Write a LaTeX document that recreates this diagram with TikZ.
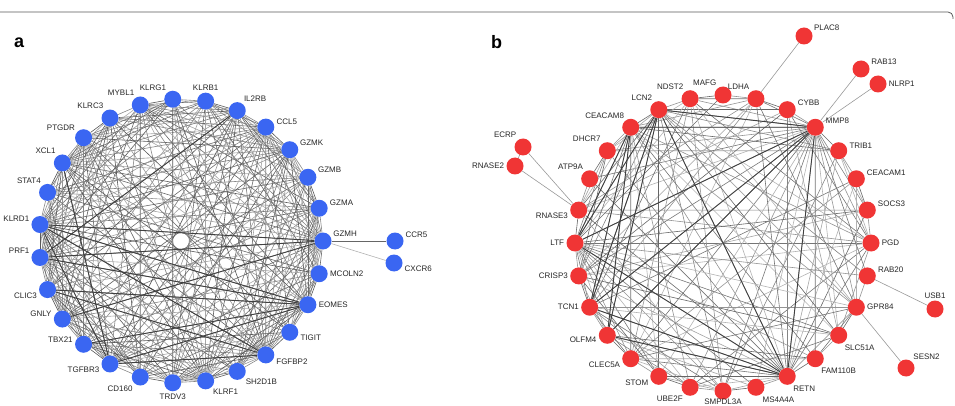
\documentclass[tikz,border=0pt]{standalone}
\usepackage{fontspec}
\setmainfont{Liberation Sans}
\usetikzlibrary{backgrounds}
\definecolor{GeneBlue}{HTML}{3A66F2}
\definecolor{GeneRed}{HTML}{F03535}

% degree weights for the two circles
\def\wa{{5,4,4,4,2,5,3,2,4,3,2,4,3,5,5,4,4,4,5,3,3,3,3,5,2,5,2}}
\def\wb{{2,2,4,2,5,2,2,1,2,5,4,2,2,2,5,3,4,4,3,2,2,2,2,5,2,2,4,2}}

\tikzset{
  gene/.style={circle,inner sep=0pt,minimum size=17pt},
  anode/.style={gene,fill=GeneBlue},
  bnode/.style={gene,fill=GeneRed},
  lbl/.style={font=\fontsize{8}{9}\selectfont,text=black!85,inner sep=1pt},
  edge/.style={line width=0.6pt},
  strong/.style={line width=0.9pt,black!75},
  panel/.style={font=\fontsize{18}{18}\selectfont\bfseries,anchor=base west,inner sep=0pt},
  SMPDL3A/.style={yshift=3pt},
}

\begin{document}
\begin{tikzpicture}[x=1pt,y=-1pt,label distance=1pt]
  \useasboundingbox (0,0) rectangle (955,406);
  \draw[black!65,line width=0.8pt,rounded corners=5pt] (0,12) -- (953,12) -- (953,19);
  \node[panel] (pa) at (14,48) {a};
  \node[panel] (pb) at (491,49) {b};

  % panel a
  \foreach \n/\la [count=\i from 0] in {GZMH/20,GZMA/8,GZMB/22,GZMK/20,CCL5/8,IL2RB/55,KLRB1/90,KLRG1/125,MYBL1/120,KLRC3/125,PTGDR/140,XCL1/125,STAT4/125,KLRD1/170,PRF1/165,CLIC3/190,GNLY/175,TBX21/175,TGFBR3/190,CD160/228,TRDV3/270,KLRF1/310,SH2D1B/320,FGFBP2/345,TIGIT/350,EOMES/0,MCOLN2/0}
    \node[anode,alias=\n,label={[lbl]\la:\n}] (a\i) at ({181+142*cos(\i*360/27)},{241-142*sin(\i*360/27)}) {};
  \node[anode,label={[lbl]15:CCR5}] (CCR5) at (395,241) {};
  \node[anode,label={[lbl]348:CXCR6}] (CXCR6) at (394,263) {};

  % panel b
  \foreach \n/\la [count=\i from 0] in {PGD/0,SOCS3/12,CEACAM1/15,TRIB1/8,MMP8/12,CYBB/15,LDHA/125,MAFG/125,NDST2/125,LCN2/125,CEACAM8/125,DHCR7/125,ATP9A/125,RNASE3/188,LTF/180,CRISP3/180,TCN1/180,OLFM4/185,CLEC5A/193,STOM/195,UBE2F/230,SMPDL3A/270,MS4A4A/305,RETN/300,FAM110B/300,SLC51A/300,GPR84/0,RAB20/10}
    \node[bnode,alias=\n,label={[lbl,\n/.try]\la:\n}] (b\i) at ({723+148*cos(\i*360/28)},{243-148*sin(\i*360/28)}) {};
  \node[bnode,label={[lbl]25:PLAC8}] (PLAC8) at (804,36) {};
  \node[bnode,label={[lbl]20:RAB13}] (RAB13) at (861,69) {};
  \node[bnode,label={[lbl]0:NLRP1}] (NLRP1) at (878,84) {};
  \node[bnode,label={[lbl]125:ECRP}] (ECRP) at (523,147) {};
  \node[bnode,label={[lbl]180:RNASE2}] (RNASE2) at (515,166) {};
  \node[bnode,label={[lbl]90:USB1}] (USB1) at (935,309) {};
  \node[bnode,label={[lbl]50:SESN2}] (SESN2) at (906,368) {};

  \begin{scope}[on background layer]
    \foreach \i in {0,...,25}{
      \pgfmathtruncatemacro\k{\i+1}
      \foreach \j in {\k,...,26}{
        \pgfmathtruncatemacro\h{mod(7*\i*\i+3*\j*\j+11*\i*\j+\j,10)}
        \pgfmathtruncatemacro\ok{(\h<\wa[\i]+\wa[\j])||(\j-\i==1)}
        \pgfmathtruncatemacro\sh{35+6*mod(\i+2*\j,6)}
        \ifnum\ok=1 \draw[edge,black!\sh] (a\i) -- (a\j);\fi
      }
    }
    \foreach \i in {0,...,26}{
      \pgfmathtruncatemacro\k{\i+1}
      \foreach \j in {\k,...,27}{
        \pgfmathtruncatemacro\h{mod(7*\i*\i+3*\j*\j+11*\i*\j+\j,10)}
        \pgfmathtruncatemacro\ok{(\h<\wb[\i]+\wb[\j]-2)||(\j-\i==1)}
        \pgfmathtruncatemacro\sh{30+6*mod(\i+2*\j,6)}
        \ifnum\ok=1 \draw[edge,black!\sh] (b\i) -- (b\j);\fi
      }
    }
    \foreach \src/\dst in {KLRD1/GZMH,KLRD1/FGFBP2,KLRD1/EOMES,PRF1/GZMH,PRF1/EOMES,CLIC3/FGFBP2,CLIC3/EOMES,TGFBR3/EOMES,TGFBR3/FGFBP2,GNLY/GZMH,TBX21/EOMES,IL2RB/PRF1,XCL1/TGFBR3,KLRD1/TGFBR3}
      \draw[strong] (\src) -- (\dst);
    \foreach \src/\dst in {LCN2/MMP8,CEACAM8/MMP8,LCN2/TCN1,LCN2/OLFM4,LCN2/LTF,LCN2/RETN,LTF/MMP8,LTF/RETN,TCN1/MMP8,OLFM4/MMP8,CEACAM8/TCN1,CEACAM8/LTF,RETN/TCN1,RETN/OLFM4,MMP8/RETN,CEACAM8/OLFM4}
      \draw[strong] (\src) -- (\dst);
    \draw[edge,black!60] (GZMH) -- (CCR5);
    \draw[edge,black!30] (GZMH) -- (CXCR6);
    \foreach \src/\dst in {LDHA/PLAC8,MMP8/RAB13,MMP8/NLRP1,RNASE3/ECRP,RNASE3/RNASE2,ECRP/RNASE2,RAB20/USB1,GPR84/SESN2}
      \draw[edge,black!40] (\src) -- (\dst);
  \end{scope}
\end{tikzpicture}
\end{document}
